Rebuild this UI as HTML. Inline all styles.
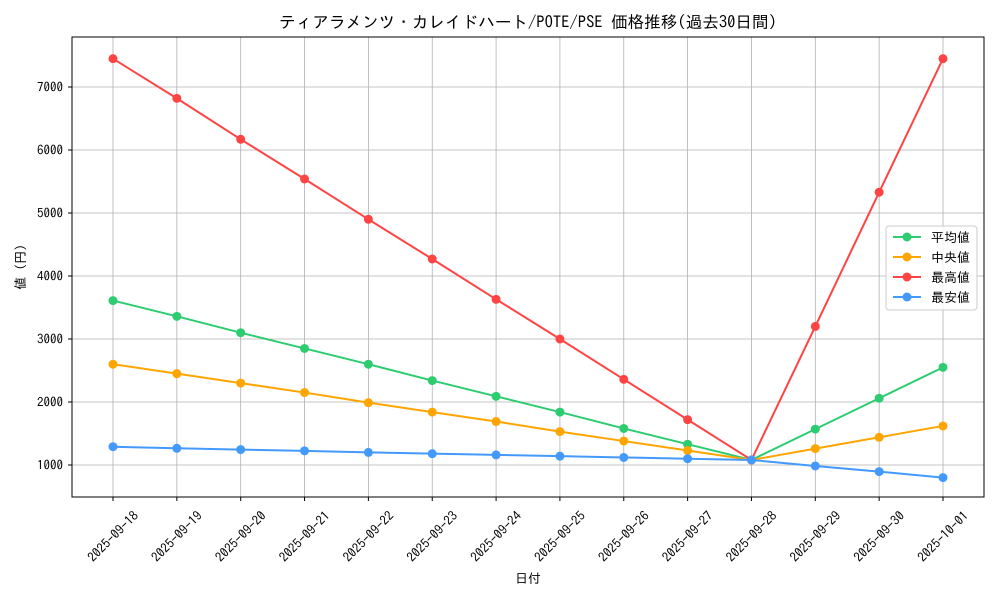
<!DOCTYPE html>
<html><head><meta charset="utf-8"><style>
body{margin:0;background:#fff;}
text{font-family:"IPAGothic","Noto Sans CJK JP",sans-serif;}
</style></head><body>
<svg id="chart" width="1000" height="600" xmlns="http://www.w3.org/2000/svg"></svg>
<script>
const dates=["2025-09-18","2025-09-19","2025-09-20","2025-09-21","2025-09-22","2025-09-23","2025-09-24","2025-09-25","2025-09-26","2025-09-27","2025-09-28","2025-09-29","2025-09-30","2025-10-01"];
const avgVals=[3610,3360,3100,2850,2600,2340,2090,1840,1580,1330,1080,1570,2060,2550];
const medVals=[2600,2450,2300,2150,1990,1840,1690,1530,1380,1230,1080,1260,1440,1620];
const maxVals=[7450,6820,6170,5540,4900,4270,3630,3000,2360,1720,1080,3200,5330,7450];
const minVals=[1290,1265,1245,1225,1200,1180,1160,1140,1120,1100,1080,985,895,800];
const yTicks=[1000,2000,3000,4000,5000,6000,7000];
const seriesNames=["平均値","中央値","最高値","最安値"];
const L=72,R=984,T=37,B=497,ymin=492,ymax=7794;
const ns="http://www.w3.org/2000/svg",svg=document.getElementById('chart');
function X(i){return 113+i*(943-113)/(dates.length-1);}
function Y(v){return B-(v-ymin)/(ymax-ymin)*(B-T);}
function mk(t,a,p){const e=document.createElementNS(ns,t);for(const k in a)e.setAttribute(k,a[k]);(p||svg).appendChild(e);return e;}
let e;
dates.forEach((d,i)=>{e=mk('line',{x1:X(i),x2:X(i),y1:T,y2:B,stroke:'#b0b0b0','stroke-width':0.8});


e=mk('line',{x1:X(i),x2:X(i),y1:B,y2:B+4,stroke:'#000'});
const cx=X(i),cy=536.5;
e=mk('text',{x:cx,y:cy+4.5,'font-size':13,'text-anchor':'middle',transform:`rotate(-45 ${cx} ${cy})`});e.textContent=d;

});
yTicks.forEach(v=>{e=mk('line',{x1:L,x2:R,y1:Y(v),y2:Y(v),stroke:'#b0b0b0','stroke-width':0.8});


mk('line',{x1:L-4,x2:L,y1:Y(v),y2:Y(v),stroke:'#000'});
e=mk('text',{x:L-9,y:Y(v)+4.5,'font-size':13,'text-anchor':'end'});e.textContent=v;

});
const colors=["#2ecc71","#ffa500","#ff4444","#4499ff"];
[avgVals,medVals,maxVals,minVals].forEach((s,k)=>{
e=mk('polyline',{points:s.map((v,i)=>X(i)+','+Y(v)).join(' '),fill:'none',stroke:colors[k],'stroke-width':2});


s.forEach((v,i)=>{e=mk('circle',{cx:X(i),cy:Y(v),r:4.5,fill:colors[k]});

});});
e=mk('rect',{x:L,y:T,width:R-L,height:B-T,fill:'none',stroke:'#000','stroke-width':1});


e=mk('text',{x:528,y:28,'font-size':16.6,'text-anchor':'middle'});e.textContent='ティアラメンツ・カレイドハート/POTE/PSE 価格推移(過去30日間)';


e=mk('text',{x:528,y:583,'font-size':13,'text-anchor':'middle'});e.textContent='日付';


e=mk('text',{x:25,y:267,'font-size':13,'text-anchor':'middle',transform:'rotate(-90 25 267)'});e.textContent='値 (円)';


const lg=mk('g',{});


mk('rect',{x:886,y:226,width:91,height:84,rx:3,fill:'#fff','fill-opacity':0.8,stroke:'#ccc'},lg);
seriesNames.forEach((n,k)=>{const y=237+k*20;
mk('line',{x1:893,x2:921,y1:y,y2:y,stroke:colors[k],'stroke-width':2},lg);
mk('circle',{cx:907,cy:y,r:4.5,fill:colors[k]},lg);
e=mk('text',{x:931,y:y+5,'font-size':13},lg);e.textContent=n;

});
</script>
</body></html>
